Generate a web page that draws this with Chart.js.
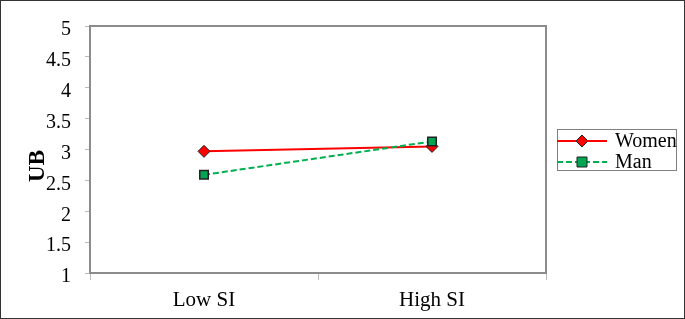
<!DOCTYPE html>
<html><head><meta charset="utf-8">
<script src="https://cdn.jsdelivr.net/npm/chart.js@4"></script>
<style>html,body{margin:0;padding:0;background:#fff}#wrap{width:685px;height:319px}</style>
</head><body><div id="wrap"><canvas id="c" width="685" height="319"></canvas></div>
<script>
const categories = ["Low SI", "High SI"];
const women = [2.97, 3.05];
const man = [2.59, 3.13];
const yTicks = [1, 1.5, 2, 2.5, 3, 3.5, 4, 4.5, 5];
const yTitle = "UB";
const FONT = "'Liberation Serif','Times New Roman',serif";

const legendAndFrame = {
  id: 'lf',
  beforeDraw(chart) {
    const ctx = chart.ctx;
    ctx.save();
    ctx.fillStyle = '#fff';
    ctx.fillRect(0, 0, chart.width, chart.height);
    ctx.restore();
  },
  afterDraw(chart) {
    const ctx = chart.ctx;
    const a = chart.chartArea;
    ctx.save();
    // plot border
    ctx.strokeStyle = '#8c8c8c';
    ctx.lineWidth = 2;
    ctx.strokeRect(a.left, a.top, a.right - a.left, a.bottom - a.top);
    // outer frame
    ctx.strokeStyle = '#333';
    ctx.lineWidth = 1;
    ctx.strokeRect(0.5, 0.5, chart.width - 1, chart.height - 1);
    // y title
    ctx.save();
    ctx.translate(38, 166);
    ctx.rotate(-Math.PI / 2);
    ctx.fillStyle = '#000';
    ctx.font = 'bold 23px ' + FONT;
    ctx.textAlign = 'center';
    ctx.textBaseline = 'middle';
    ctx.fillText(yTitle, 0, 0);
    ctx.restore();
    // legend
    const bx = 557, by = 129, bw = 119, bh = 41;
    ctx.strokeStyle = '#7f7f7f';
    ctx.strokeRect(bx + 0.5, by + 0.5, bw, bh);
    const rows = [by + 12, by + 33];
    chart.data.datasets.forEach((ds, i) => {
      const y = rows[i];
      ctx.strokeStyle = ds.borderColor;
      ctx.lineWidth = 2;
      ctx.setLineDash(ds.borderDash || []);
      ctx.beginPath(); ctx.moveTo(bx, y); ctx.lineTo(bx + 50, y); ctx.stroke();
      ctx.setLineDash([]);
      const cx = bx + 25;
      ctx.fillStyle = ds.pointBackgroundColor;
      ctx.strokeStyle = ds.pointBorderColor;
      ctx.lineWidth = 1;
      ctx.beginPath();
      if (ds.pointStyle === 'rectRot') {
        ctx.moveTo(cx, y - 6); ctx.lineTo(cx + 6, y); ctx.lineTo(cx, y + 6); ctx.lineTo(cx - 6, y); ctx.closePath();
      } else {
        ctx.rect(cx - 5, y - 5, 10, 10);
      }
      ctx.fill(); ctx.stroke();
      ctx.fillStyle = '#000';
      ctx.font = '20px ' + FONT;
      ctx.textBaseline = 'middle';
      ctx.textAlign = 'left';
      ctx.fillText(ds.label, bx + 58, y + 1);
    });
    ctx.restore();
  }
};

new Chart(document.getElementById('c'), {
  type: 'line',
  data: {
    labels: categories,
    datasets: [
      { label: 'Women', data: women, borderColor: '#ff0000', borderWidth: 2,
        pointStyle: 'rectRot', pointRadius: 6, pointBackgroundColor: '#ff0000',
        pointBorderColor: '#222', pointBorderWidth: 1, order: 1 },
      { label: 'Man', data: man, borderColor: '#00b050', borderWidth: 2, borderDash: [6, 3],
        pointStyle: 'rect', pointRadius: 6, pointBackgroundColor: '#00a651',
        pointBorderColor: '#222', pointBorderWidth: 1.5, order: 0 }
    ]
  },
  options: {
    responsive: false,
    animation: false,
    layout: { padding: { top: 25, right: 139, left: 0, bottom: 0 } },
    plugins: { legend: { display: false }, tooltip: { enabled: false } },
    scales: {
      x: {
        offset: true,
        grid: { display: true, drawOnChartArea: false, offset: true, tickLength: 7, color: '#bbb' },
        border: { display: false },
        ticks: { color: '#000', font: { family: FONT, size: 21 }, padding: 8 },
        afterFit(s) { s.height = 46; }
      },
      y: {
        min: 1, max: 5,
        afterBuildTicks(s) { s.ticks = yTicks.map(v => ({ value: v })); },
        grid: { display: true, drawOnChartArea: false, tickLength: 5, color: '#bbb' },
        border: { display: false },
        ticks: { color: '#000', font: { family: FONT, size: 20 }, padding: 14, labelOffset: 4,
          callback: (v) => String(v) },
        afterFit(s) { s.width = 90; }
      }
    }
  },
  plugins: [legendAndFrame]
});
</script></body></html>
